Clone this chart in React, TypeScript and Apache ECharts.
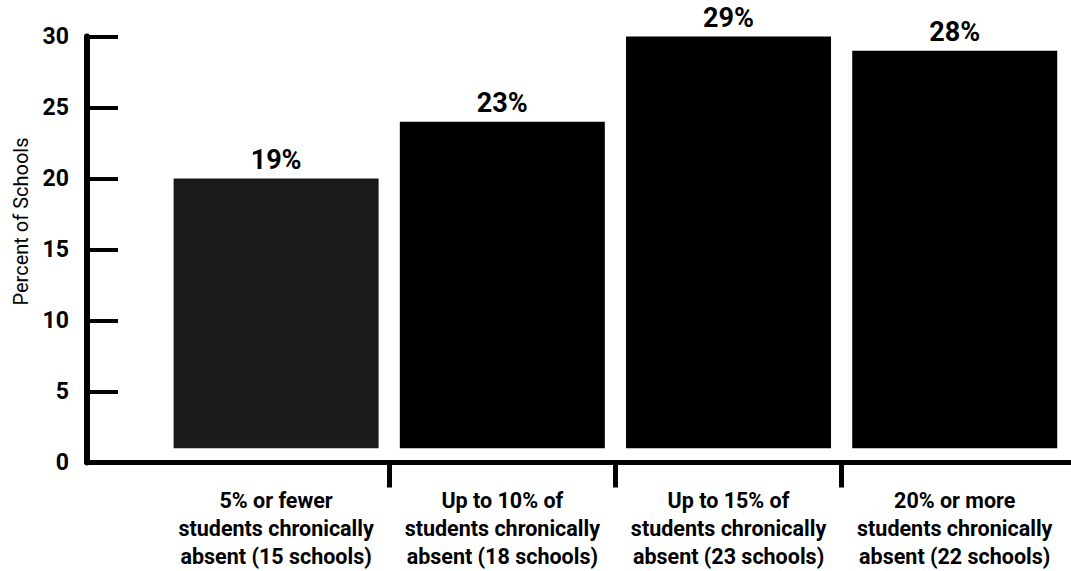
import React, { useEffect, useRef } from "react";
import * as echarts from "echarts";

// Share of schools in each chronic-absence band
const categories: string[] = [
  "5% or fewer\nstudents chronically\nabsent (15 schools)",
  "Up to 10% of\nstudents chronically\nabsent (18 schools)",
  "Up to 15% of\nstudents chronically\nabsent (23 schools)",
  "20% or more\nstudents chronically\nabsent (22 schools)",
];
const percentOfSchools: number[] = [19, 23, 29, 28];
const barColors: string[] = ["#1a1a1a", "#000000", "#000000", "#000000"];
const yTicks = { min: 0, max: 30, interval: 5 };

// Bars float a little above the baseline
const barLift = 1;

const FONT = "Roboto, 'Noto Sans', Arial, sans-serif";

export default function App() {
  const ref = useRef<HTMLDivElement>(null);

  useEffect(() => {
    if (!ref.current) return;
    const chart = echarts.init(ref.current, undefined, { renderer: "svg" });

    const positions = categories.map((_, i) => i);
    const boundaries = categories.slice(1).map((_, i) => i + 0.5);

    chart.setOption({
      animation: false,
      backgroundColor: "#ffffff",
      grid: { left: 87, right: 0, top: 36.5, bottom: 108.5, containLabel: false },
      xAxis: {
        type: "value",
        min: -0.836,
        max: 3.514,
        splitLine: { show: false },
        axisLine: { show: true, onZero: false, lineStyle: { color: "#000", width: 5 } },
        axisTick: {
          show: true,
          customValues: boundaries,
          length: 25,
          lineStyle: { color: "#000", width: 5 },
        },
        axisLabel: {
          show: true,
          customValues: positions,
          formatter: (v: number) => categories[Math.round(v)] ?? "",
          margin: 24,
          fontFamily: FONT,
          fontWeight: "bold",
          fontSize: 21.5,
          lineHeight: 28,
          color: "#000",
          align: "center",
        },
      },
      yAxis: [
        {
          type: "value",
          min: yTicks.min,
          max: yTicks.max,
          interval: yTicks.interval,
          name: "Percent of Schools",
          nameLocation: "middle",
          nameGap: 56,
          nameTextStyle: {
            fontFamily: FONT,
            fontSize: 20,
            color: "#000",
            padding: [0, 0, 0, 56],
          },
          splitLine: { show: false },
          axisLine: { show: true, onZero: false, lineStyle: { color: "#000", width: 6 } },
          axisTick: {
            show: true,
            inside: true,
            length: 31,
            lineStyle: { color: "#000", width: 4 },
          },
          axisLabel: {
            margin: 18,
            fontFamily: FONT,
            fontWeight: "bold",
            fontSize: 23,
            color: "#000",
          },
        },
        {
          // hidden scale for the bars, shifted so they sit just above the axis
          type: "value",
          position: "left",
          min: yTicks.min - barLift,
          max: yTicks.max - barLift,
          show: false,
          splitLine: { show: false },
        },
      ],
      series: [
        {
          type: "bar",
          yAxisIndex: 1,
          barWidth: 205,
          data: percentOfSchools.map((v, i) => ({
            value: [i, v],
            itemStyle: { color: barColors[i] },
          })),
          label: {
            show: true,
            position: "top",
            distance: 5,
            formatter: (p: any) => `${p.value[1]}%`,
            fontFamily: FONT,
            fontWeight: "bold",
            fontSize: 27,
            lineHeight: 27,
            color: "#000",
          },
        },
      ],
    });

    return () => chart.dispose();
  }, []);

  return <div ref={ref} style={{ width: 1071, height: 571, position: "absolute", left: 0, top: 0 }} />;
}
